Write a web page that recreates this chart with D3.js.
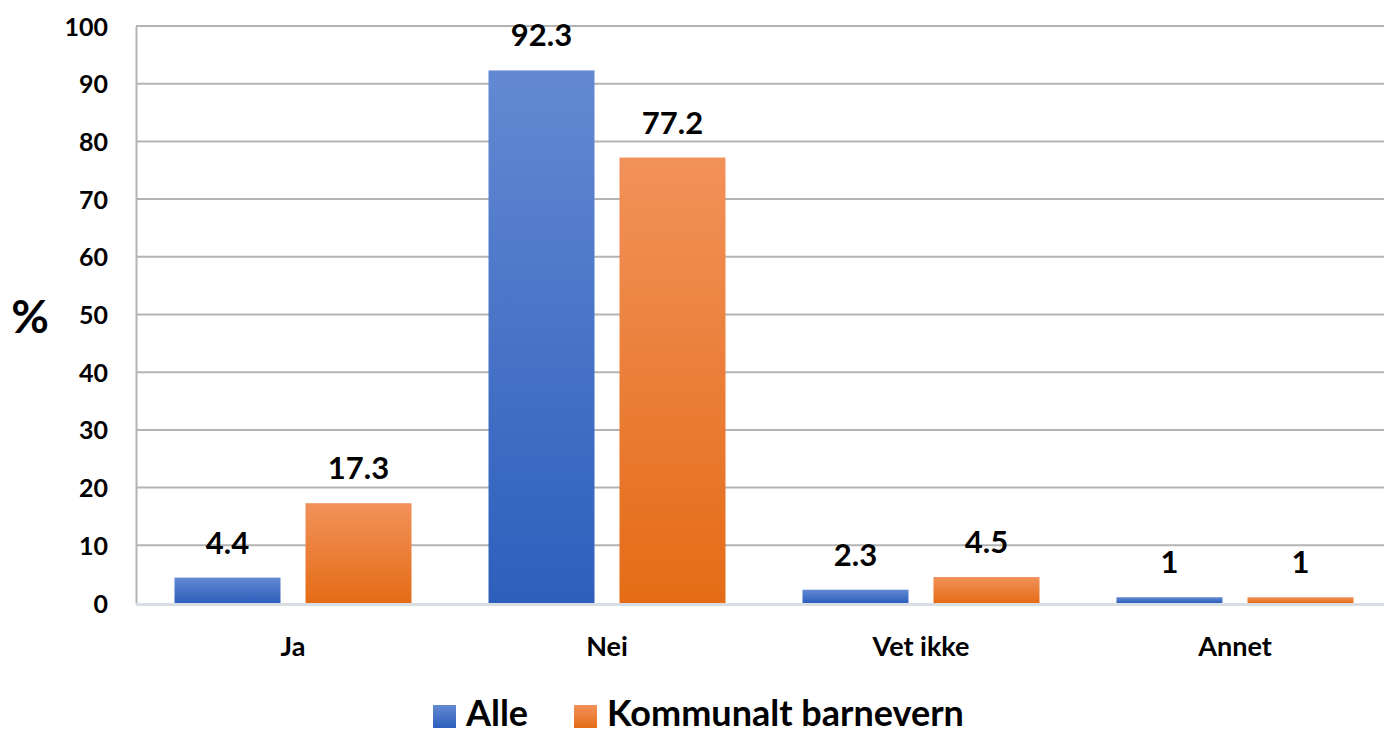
<!DOCTYPE html>
<html><head><meta charset="utf-8">
<script src="https://cdn.jsdelivr.net/npm/d3@7"></script>
<style>body{margin:0;background:#fff}svg text{font-family:Lato,"Open Sans",sans-serif;font-weight:bold;fill:#000}</style>
</head><body><svg id="c" width="1384" height="734"></svg>
<script>
const categories = ["Ja","Nei","Vet ikke","Annet"];
const seriesNames = ["Alle","Kommunalt barnevern"];
const alle = [4.4, 92.3, 2.3, 1];
const kommunalt = [17.3, 77.2, 4.5, 1];
const yTicks = [0,10,20,30,40,50,60,70,80,90,100];

const svg = d3.select("#c");
const defs = svg.append("defs");
const grads = [["gBlue","#6389d2","#2d5fbc"],["gOrange","#f2915a","#e46c16"]];
grads.forEach(([id,a,b])=>{
  const g = defs.append("linearGradient").attr("id",id).attr("x1",0).attr("y1",0).attr("x2",0).attr("y2",1);
  g.append("stop").attr("offset","0%").attr("stop-color",a);
  g.append("stop").attr("offset","100%").attr("stop-color",b);
});
const fills = ["url(#gBlue)","url(#gOrange)"];

const x0 = 136, x1 = 1392, yTop = 26, yBot = 603;
const x = d3.scaleBand().domain(categories).range([x0,x1]).paddingInner(0).paddingOuter(0);
const y = d3.scaleLinear().domain([0,100]).range([yBot,yTop]);
const groupW = 237, barW = 106;
const inner = d3.scaleOrdinal().domain(seriesNames).range([0, groupW-barW]);

// gridlines
svg.append("g").selectAll("line").data(yTicks.filter(d=>d>0)).join("line")
  .attr("x1",x0).attr("x2",1384).attr("y1",d=>y(d)).attr("y2",d=>y(d))
  .attr("stroke","#b3b3b3").attr("stroke-width",2);

// y axis
const yAxis = d3.axisLeft(y).tickValues(yTicks).tickSize(0).tickPadding(28);
const ga = svg.append("g").attr("transform",`translate(${x0},0)`).call(yAxis);
ga.select(".domain").attr("stroke","#b3b3b3").attr("stroke-width",2);
ga.selectAll("text").style("font-size","25px").attr("dy","0.36em");

// bars
const data = [alle, kommunalt];
categories.forEach((c,i)=>{
  const bx = x(c) + (x.bandwidth()-groupW)/2;
  data.forEach((s,j)=>{
    const left = bx + inner(seriesNames[j]);
    svg.append("rect").attr("x",left).attr("width",barW)
      .attr("y",y(s[i])).attr("height",yBot - y(s[i])).attr("fill",fills[j]);
    svg.append("text").attr("x",left+barW/2).attr("y",y(s[i])-24)
      .attr("text-anchor","middle").style("font-size","31px").text(s[i]);
  });
});

// baseline
svg.append("line").attr("x1",x0).attr("x2",1384).attr("y1",yBot+1.5).attr("y2",yBot+1.5)
  .attr("stroke","#d9dde4").attr("stroke-width",3);

// x axis labels
const xAxis = d3.axisBottom(x).tickSize(0).tickPadding(53);
const gx = svg.append("g").attr("transform",`translate(0,${yBot})`).call(xAxis);
gx.select(".domain").remove();
gx.selectAll("text").style("font-size","27px").attr("dy","0");

// y title
svg.append("text").attr("x",30).attr("y",333).attr("text-anchor","middle")
  .style("font-size","46px").text("%");

// legend
const legX = [433, 574];
seriesNames.forEach((n,j)=>{
  svg.append("rect").attr("x",legX[j]).attr("y",705).attr("width",23).attr("height",23).attr("fill",fills[j]);
  svg.append("text").attr("x",legX[j]+33).attr("y",726).style("font-size","36px").text(n);
});
</script></body></html>
